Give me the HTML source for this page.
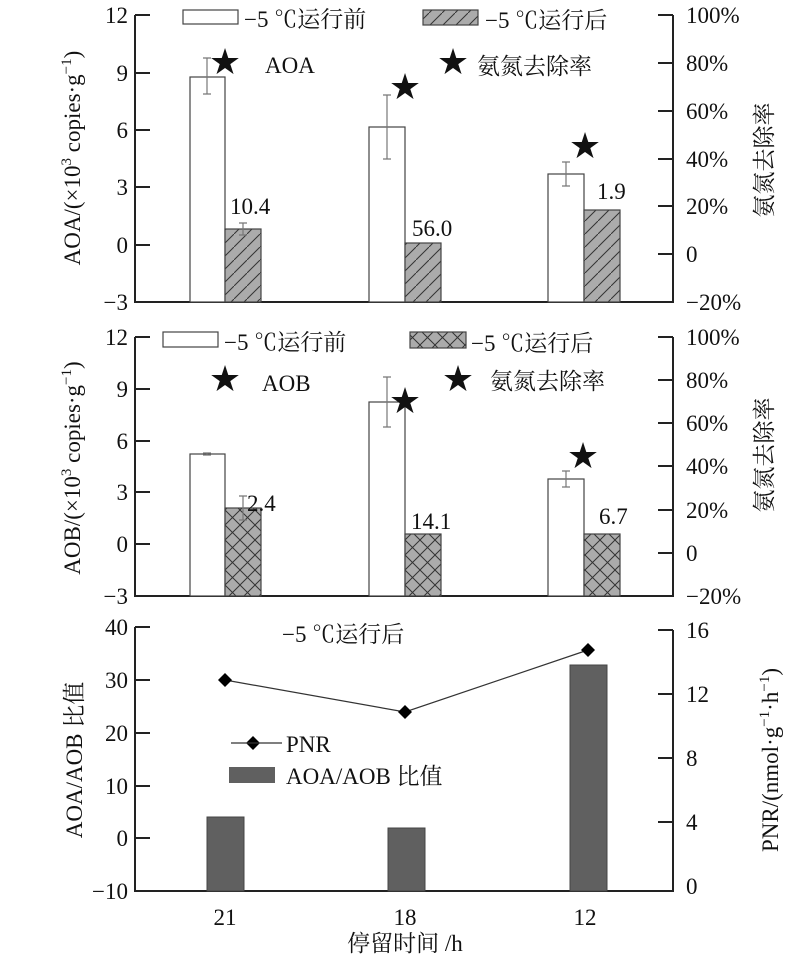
<!DOCTYPE html>
<html><head><meta charset="utf-8"><style>
body{margin:0;background:#fff}
text{font-family:"Liberation Serif","Noto Serif CJK SC","Noto Sans CJK SC",serif;fill:#111}
</style></head><body>
<svg width="800" height="956" xmlns="http://www.w3.org/2000/svg">
<defs>
<pattern id="h1" patternUnits="userSpaceOnUse" width="13" height="13">
<rect width="13" height="13" fill="#ababab"/><path d="M-1,14 L14,-1" stroke="#333" stroke-width="1"/></pattern>
<pattern id="h2" patternUnits="userSpaceOnUse" width="15" height="15">
<rect width="15" height="15" fill="#ababab"/><path d="M0,0 L15,15 M15,0 L0,15" stroke="#333" stroke-width="1"/></pattern>
</defs>
<g stroke="#222" stroke-width="2" fill="none">
<path d="M135,15 V302 H673 V15"/>
<path d="M135,15h15M135,73h15M135,130h15M135,187h15M135,245h15"/>
<path d="M673,15h-15M673,63h-15M673,111h-15M673,159h-15M673,206h-15M673,254h-15"/>
<path d="M135,337 V596 H673 V337"/>
<path d="M135,337h15M135,389h15M135,441h15M135,492h15M135,544h15"/>
<path d="M673,337h-15M673,380h-15M673,423h-15M673,466h-15M673,510h-15M673,553h-15"/>
<path d="M135,627 V891 H673 V630"/>
<path d="M135,627h15M135,680h15M135,733h15M135,786h15M135,838h15"/>
<path d="M673,630h-15M673,694h-15M673,758h-15M673,822h-15"/>
</g>
<g stroke="#444" stroke-width="1.2">
<rect x="190" y="77" width="35" height="225" fill="#fff"/>
<rect x="225" y="229" width="36" height="73" fill="url(#h1)"/>
<rect x="369" y="127" width="36" height="175" fill="#fff"/>
<rect x="405" y="243" width="36" height="59" fill="url(#h1)"/>
<rect x="548" y="174" width="36" height="128" fill="#fff"/>
<rect x="584" y="210" width="36" height="92" fill="url(#h1)"/>
<rect x="190" y="454" width="35" height="142" fill="#fff"/>
<rect x="225" y="508" width="36" height="88" fill="url(#h2)"/>
<rect x="369" y="402" width="36" height="194" fill="#fff"/>
<rect x="405" y="534" width="36" height="62" fill="url(#h2)"/>
<rect x="548" y="479" width="36" height="117" fill="#fff"/>
<rect x="584" y="534" width="36" height="62" fill="url(#h2)"/>
</g>
<g stroke="#777" stroke-width="1.2" fill="none">
<path d="M207,58v36M203,58h8M203,94h8"/>
<path d="M387,95v64M383,95h8M383,159h8"/>
<path d="M566,162v24M562,162h8M562,186h8"/>
<path d="M243,223v12M239,223h8M239,235h8"/>
<path d="M207,453v2M203,453h8M203,455h8"/>
<path d="M243,496v24M239,496h8M239,520h8"/>
<path d="M387,377v50M383,377h8M383,427h8"/>
<path d="M566,471v16M562,471h8M562,487h8"/>
</g>
<g fill="#606060" stroke="#444">
<rect x="207" y="817" width="37" height="74"/>
<rect x="388" y="828" width="37" height="63"/>
<rect x="570" y="665" width="37" height="226"/>
</g>
<polyline points="225,680 405,712 588,650" fill="none" stroke="#333" stroke-width="1.2"/>
<g fill="#000">
<path d="M225,673l7,7l-7,7l-7,-7z"/><path d="M405,705l7,7l-7,7l-7,-7z"/><path d="M588,643l7,7l-7,7l-7,-7z"/>
<path d="M253,736l7,7l-7,7l-7,-7z"/>
</g>
<line x1="231" y1="743" x2="282" y2="743" stroke="#333" stroke-width="1.2"/>
<rect x="229" y="767" width="46" height="16" fill="#606060"/>
<rect x="183" y="10" width="55" height="14" fill="#fff" stroke="#444" stroke-width="1.2"/>
<rect x="423" y="10" width="55" height="15" fill="url(#h1)" stroke="#444" stroke-width="1.2"/>
<rect x="163" y="332" width="55" height="15" fill="#fff" stroke="#444" stroke-width="1.2"/>
<rect x="410" y="332" width="56" height="16" fill="url(#h2)" stroke="#444" stroke-width="1.2"/>
<g font-size="36" text-anchor="middle">
<text x="225" y="74" style="font-family:'DejaVu Sans',sans-serif">★</text>
<text x="405" y="99" style="font-family:'DejaVu Sans',sans-serif">★</text>
<text x="585" y="158" style="font-family:'DejaVu Sans',sans-serif">★</text>
<text x="453" y="74" style="font-family:'DejaVu Sans',sans-serif">★</text>
<text x="225" y="391" style="font-family:'DejaVu Sans',sans-serif">★</text>
<text x="405" y="413" style="font-family:'DejaVu Sans',sans-serif">★</text>
<text x="583" y="468" style="font-family:'DejaVu Sans',sans-serif">★</text>
<text x="458" y="391" style="font-family:'DejaVu Sans',sans-serif">★</text>
</g>
<g font-size="23">
<text x="244" y="27">−5 ℃运行前</text>
<text x="485" y="28">−5 ℃运行后</text>
<text x="265" y="73">AOA</text>
<text x="477" y="74">氨氮去除率</text>
<text x="224" y="350">−5 ℃运行前</text>
<text x="471" y="351">−5 ℃运行后</text>
<text x="262" y="391">AOB</text>
<text x="490" y="389">氨氮去除率</text>
<text x="282" y="642">−5 ℃运行后</text>
<text x="286" y="752">PNR</text>
<text x="286" y="784">AOA/AOB 比值</text>
<text x="230" y="214">10.4</text>
<text x="412" y="236">56.0</text>
<text x="597" y="199">1.9</text>
<text x="247" y="511">2.4</text>
<text x="411" y="529">14.1</text>
<text x="599" y="524">6.7</text>
</g>
<g font-size="23" text-anchor="end">
<text x="128" y="23">12</text><text x="128" y="81">9</text><text x="128" y="138">6</text><text x="128" y="195">3</text><text x="128" y="253">0</text><text x="128" y="310">−3</text>
<text x="128" y="345">12</text><text x="128" y="397">9</text><text x="128" y="449">6</text><text x="128" y="500">3</text><text x="128" y="552">0</text><text x="128" y="604">−3</text>
<text x="128" y="635">40</text><text x="128" y="688">30</text><text x="128" y="741">20</text><text x="128" y="794">10</text><text x="128" y="846">0</text><text x="128" y="899">−10</text>
</g>
<g font-size="23">
<text x="686" y="23">100%</text><text x="686" y="71">80%</text><text x="686" y="119">60%</text><text x="686" y="167">40%</text><text x="686" y="214">20%</text><text x="686" y="262">0</text><text x="686" y="310">−20%</text>
<text x="686" y="345">100%</text><text x="686" y="388">80%</text><text x="686" y="431">60%</text><text x="686" y="474">40%</text><text x="686" y="518">20%</text><text x="686" y="561">0</text><text x="686" y="604">−20%</text>
<text x="686" y="638">16</text><text x="686" y="702">12</text><text x="686" y="766">8</text><text x="686" y="830">4</text><text x="686" y="894">0</text>
</g>
<g font-size="23" text-anchor="middle">
<text x="225" y="925">21</text><text x="405" y="925">18</text><text x="585" y="925">12</text>
<text x="405" y="951">停留时间 /h</text>
<text transform="translate(80,158) rotate(-90)">AOA/(×10<tspan font-size="15" dy="-9">3</tspan><tspan dy="9"> copies·g</tspan><tspan font-size="15" dy="-9">−1</tspan><tspan dy="9">)</tspan></text>
<text transform="translate(80,468) rotate(-90)">AOB/(×10<tspan font-size="15" dy="-9">3</tspan><tspan dy="9"> copies·g</tspan><tspan font-size="15" dy="-9">−1</tspan><tspan dy="9">)</tspan></text>
<text transform="translate(82,760) rotate(-90)">AOA/AOB 比值</text>
<text transform="translate(772,160) rotate(-90)">氨氮去除率</text>
<text transform="translate(772,455) rotate(-90)">氨氮去除率</text>
<text transform="translate(778,760) rotate(-90)">PNR/(nmol·g<tspan font-size="15" dy="-9">−1</tspan><tspan dy="9">·h</tspan><tspan font-size="15" dy="-9">−1</tspan><tspan dy="9">)</tspan></text>
</g>
</svg>
</body></html>
